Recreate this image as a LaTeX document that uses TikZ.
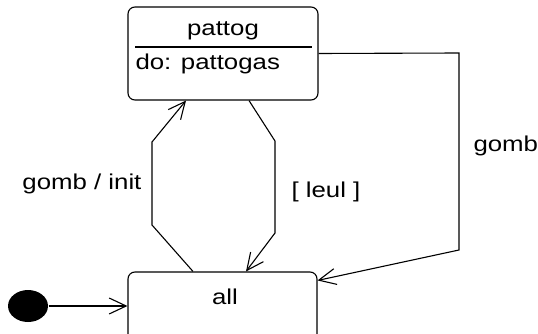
\documentclass[tikz,border=0pt]{standalone}
\usepackage{fontspec}
\setmainfont{Liberation Sans}[FakeStretch=1.2]
\usetikzlibrary{arrows.meta,shapes.geometric}

\begin{document}
\begin{tikzpicture}[
    x=1pt, y=-1pt,
    font=\fontsize{21.5}{24}\selectfont,
    line width=1.1pt,
    state/.style={draw, rounded corners=7pt, inner sep=0pt},
    txt/.style={inner sep=2pt},
    startdot/.style={ellipse, fill=black, inner sep=0pt, minimum width=40pt, minimum height=32pt},
    trans/.style={-{Straight Barb[length=17pt, width=16pt, line width=1.1pt]}}
]
  \clip (0,0) rectangle (538,334);

  % states
  \node[state, minimum width=190pt, minimum height=93pt] (pattog) at (223,53.5) {};
  \node[txt] (pattogname) at (223,31) {pattog};
  \node[txt, anchor=west] (pattogdo) at (133,64) {do: pattogas};
  \draw (135,47) -- (312,47);

  \node[state, minimum width=189pt, minimum height=80pt] (all) at (222.5,312) {};
  \node[txt] (allname) at (225,297) {all};

  \node[startdot] (init) at (28,306) {};

  % transitions
  \draw[trans] (init.east) -- (init.east -| all.west);
  \draw[trans] ([xshift=-29.5pt]all.north) -- (152,225) -- (152,142)
      node[midway, left=8pt, txt] (lblinit) {gomb / init} -- ([xshift=-37pt]pattog.south);
  \draw[trans] ([xshift=26pt]pattog.south) -- (275,141) -- (275,233)
      node[pos=0.55, right=14pt, txt] (lblleul) {[ leul ]} -- ([xshift=23.5pt]all.north);
  \draw[trans] (pattog.east) -- (459,53) -- (459,250)
      node[pos=0.47, right=12pt, txt] (lblgomb) {gomb} -- ([yshift=-9pt]all.north east);
\end{tikzpicture}
\end{document}
